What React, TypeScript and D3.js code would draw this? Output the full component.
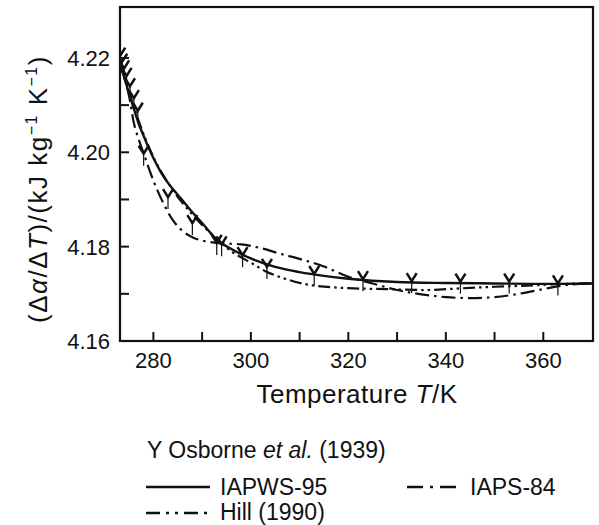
import React from 'react';
import * as d3 from 'd3';

const FONT = '"Liberation Sans", Arial, Helvetica, sans-serif';

// IAPWS-95 (solid)
const iapwsT = [273.15, 274, 275, 276, 277, 278, 279, 280, 282, 284, 286, 288, 290, 293, 296, 300, 305, 310, 315, 320, 330, 340, 350, 360, 370];
const iapwsV = [4.2190, 4.2160, 4.2125, 4.2092, 4.2060, 4.2035, 4.2010, 4.1988, 4.1950, 4.1922, 4.1898, 4.1873, 4.1850, 4.1815, 4.1795, 4.1775, 4.1757, 4.1746, 4.1738, 4.1732, 4.1725, 4.1723, 4.1722, 4.1721, 4.1722];

// IAPS-84 (dash-dot)
const iapsT = [273.15, 274, 275, 276, 277, 278, 280, 282, 284, 286, 288, 290, 294, 298, 302, 306, 310, 315, 320, 325, 330, 335, 340, 345, 350, 355, 360, 365, 370];
const iapsV = [4.2190, 4.2160, 4.2120, 4.2062, 4.2027, 4.1998, 4.1940, 4.1893, 4.1856, 4.1833, 4.1820, 4.1813, 4.1807, 4.1805, 4.1797, 4.1785, 4.1774, 4.1758, 4.1736, 4.1722, 4.1708, 4.1699, 4.1693, 4.1691, 4.1693, 4.1700, 4.1710, 4.1719, 4.1722];

// Hill (1990) (dash-dot-dot)
const hillT = [273.15, 275, 278, 280, 284, 288, 292, 296, 300, 303, 307, 312, 320, 328, 336, 342, 350, 358, 364, 370];
const hillV = [4.2192, 4.2128, 4.2038, 4.1990, 4.1920, 4.1868, 4.1826, 4.1790, 4.1766, 4.1748, 4.1732, 4.1719, 4.1712, 4.1710, 4.1708, 4.1711, 4.1715, 4.1718, 4.1721, 4.1722];

// Osborne et al. (1939) data points
const osborneT = [273.2, 273.6, 274.0, 274.5, 275.2, 276.0, 276.8, 278.0, 283.0, 288.0, 293.0, 294.0, 298.3, 303.3, 313.0, 323.0, 333.0, 343.0, 353.0, 363.0];
const osborneV = [4.2205, 4.2192, 4.2178, 4.2162, 4.2140, 4.2115, 4.2088, 4.1997, 4.1905, 4.1850, 4.1808, 4.1805, 4.1782, 4.1757, 4.1742, 4.1731, 4.1727, 4.1726, 4.1726, 4.1722];

const xMinorTicks = [280, 290, 300, 310, 320, 330, 340, 350, 360];
const xTickLabels = [280, 300, 320, 340, 360];
const yMinorTicks = [4.17, 4.18, 4.19, 4.20, 4.21, 4.22];
const yTickLabels = [4.16, 4.18, 4.20, 4.22];

const PL = 120, PR = 593, PT = 7, PB = 341;

export default function App() {
  const x = d3.scaleLinear().domain([273.15, 370.2]).range([PL, PR]);
  const y = d3.scaleLinear().domain([4.16, 4.2308]).range([PB, PT]);
  const line = d3.line<[number, number]>().x(d => x(d[0])).y(d => y(d[1])).curve(d3.curveMonotoneX);
  const iapws = line(iapwsT.map((t, i) => [t, iapwsV[i]]) as [number, number][]) || '';
  const iaps = line(iapsT.map((t, i) => [t, iapsV[i]]) as [number, number][]) || '';
  const hill = line(hillT.map((t, i) => [t, hillV[i]]) as [number, number][]) || '';
  const tick = 9;
  return (
    <svg width={599} height={525} style={{ position: 'absolute', left: 0, top: 0, background: '#fff' }} fontFamily={FONT}>
      <rect x={0} y={0} width={599} height={525} fill="#fff" />
      <defs>
        <clipPath id="plotclip">
          <rect x={PL} y={PT - 6} width={PR - PL} height={PB - PT + 6} />
        </clipPath>
      </defs>
      <g clipPath="url(#plotclip)" fill="none" stroke="#111">
        <path d={hill} strokeWidth={2.2} strokeDasharray="12,4,2.5,4,2.5,4" />
        <path d={iaps} strokeWidth={2.2} strokeDasharray="14,5,2.5,5" />
        <path d={iapws} strokeWidth={2.4} />
        {osborneT.map((t, i) => {
          const cx = x(t), cy = y(osborneV[i]);
          return (
            <g key={i} transform={`translate(${cx},${cy})`}>
              <path d="M-5,-8 L0,0 L5,-8" strokeWidth={2.5} />
              <line x1={0} y1={0} x2={0} y2={12} strokeWidth={1.2} />
            </g>
          );
        })}
      </g>
      {/* frame */}
      <rect x={PL} y={PT} width={PR - PL} height={PB - PT} fill="none" stroke="#111" strokeWidth={2.2} />
      {/* ticks */}
      {xMinorTicks.map(t => (
        <line key={'xt' + t} x1={x(t)} x2={x(t)} y1={PB} y2={PB - tick} stroke="#111" strokeWidth={2} />
      ))}
      {yMinorTicks.map(t => (
        <line key={'yt' + t} x1={PL} x2={PL + tick} y1={y(t)} y2={y(t)} stroke="#111" strokeWidth={2} />
      ))}
      {xTickLabels.map(t => (
        <text key={'xl' + t} x={x(t)} y={368} textAnchor="middle" fontSize={22} fill="#111">{t}</text>
      ))}
      {yTickLabels.map(t => (
        <text key={'yl' + t} x={110} y={y(t) + 8} textAnchor="end" fontSize={22} fill="#111">{t.toFixed(2)}</text>
      ))}
      {/* axis titles */}
      <text x={357} y={403} textAnchor="middle" fontSize={26} letterSpacing={0.5} fill="#111">
        Temperature <tspan fontStyle="italic">T</tspan>/K
      </text>
      <text transform="translate(47,189) rotate(-90)" textAnchor="middle" fontSize={26} letterSpacing={1.5} fill="#111">
        (Δ<tspan fontStyle="italic">α</tspan>/Δ<tspan fontStyle="italic">T</tspan>)/(kJ kg<tspan dy={-10} fontSize={16}>−1</tspan><tspan dy={10}> K</tspan><tspan dy={-10} fontSize={16}>−1</tspan><tspan dy={10}>)</tspan>
      </text>
      {/* legend */}
      <text x={147} y={458} fontSize={23} fill="#111">
        Y Osborne <tspan fontStyle="italic">et al.</tspan> (1939)
      </text>
      <line x1={146} x2={210} y1={487} y2={487} stroke="#111" strokeWidth={2.4} />
      <text x={220} y={495} fontSize={23} fill="#111">IAPWS-95</text>
      <line x1={407} x2={462} y1={487} y2={487} stroke="#111" strokeWidth={2.4} strokeDasharray="16,7,3,7" />
      <text x={470} y={495} fontSize={23} fill="#111">IAPS-84</text>
      <line x1={146} x2={210} y1={513} y2={513} stroke="#111" strokeWidth={2.4} strokeDasharray="14,6,3,6,3,6" />
      <text x={220} y={520} fontSize={23} fill="#111">Hill (1990)</text>
    </svg>
  );
}
